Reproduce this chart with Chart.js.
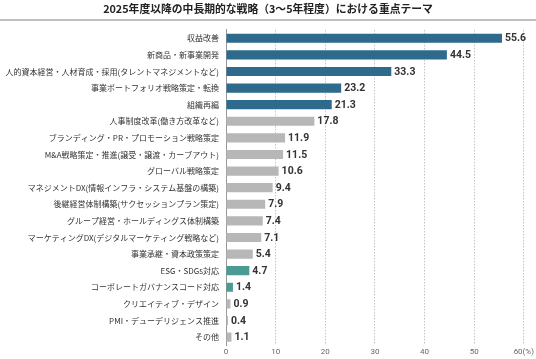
<!DOCTYPE html>
<html>
<head>
<meta charset="utf-8">
<script src="https://cdn.jsdelivr.net/npm/chart.js@4/dist/chart.umd.min.js"></script>
<style>
  html, body { margin: 0; padding: 0; background: #fff; }
  #wrap { width: 536px; height: 359px; position: relative; }
</style>
</head>
<body>
<div id="wrap"><canvas id="myChart" width="536" height="359"></canvas></div>
<script>
const titleText = "2025年度以降の中長期的な戦略（3～5年程度）における重点テーマ";

const categories = [
  "収益改善",
  "新商品・新事業開発",
  "人的資本経営・人材育成・採用(タレントマネジメントなど)",
  "事業ポートフォリオ戦略策定・転換",
  "組織再編",
  "人事制度改革(働き方改革など)",
  "ブランディング・PR・プロモーション戦略策定",
  "M&A戦略策定・推進(譲受・譲渡・カーブアウト)",
  "グローバル戦略策定",
  "マネジメントDX(情報インフラ・システム基盤の構築)",
  "後継経営体制構築(サクセッションプラン策定)",
  "グループ経営・ホールディングス体制構築",
  "マーケティングDX(デジタルマーケティング戦略など)",
  "事業承継・資本政策策定",
  "ESG・SDGs対応",
  "コーポレートガバナンスコード対応",
  "クリエイティブ・デザイン",
  "PMI・デューデリジェンス推進",
  "その他"
];

const values = [55.6, 44.5, 33.3, 23.2, 21.3, 17.8, 11.9, 11.5, 10.6, 9.4, 7.9, 7.4, 7.1, 5.4, 4.7, 1.4, 0.9, 0.4, 1.1];

// colour group per bar: top five, ESG group, the rest
const groups = ["top", "top", "top", "top", "top", "other", "other", "other", "other", "other",
  "other", "other", "other", "other", "esg", "esg", "other", "other", "other"];

const xTicks = [0, 10, 20, 30, 40, 50, 60];

const groupColors = { top: "#2d6a8b", esg: "#4b9b95", other: "#b7b7b7" };

const titleLine = {
  id: "titleLine",
  beforeDraw(chart) {
    const ctx = chart.ctx;
    ctx.save();
    ctx.strokeStyle = "#a8a8a8";
    ctx.lineWidth = 1.5;
    ctx.beginPath();
    ctx.moveTo(0, 20);
    ctx.lineTo(chart.width, 20);
    ctx.stroke();
    ctx.restore();
  }
};

const valueLabels = {
  id: "valueLabels",
  afterDatasetsDraw(chart) {
    const ctx = chart.ctx;
    const meta = chart.getDatasetMeta(0);
    ctx.save();
    ctx.font = "bold 10.5px 'Roboto', 'Noto Sans', sans-serif";
    ctx.fillStyle = "#333";
    ctx.textBaseline = "middle";
    ctx.textAlign = "left";
    meta.data.forEach((bar, i) => {
      ctx.fillText(values[i].toFixed(1), bar.x + 3, bar.y + 0.5);
    });
    ctx.restore();
  }
};

var ctx = document.getElementById("myChart").getContext("2d");
var myChart = new Chart(ctx, {
  type: "bar",
  data: {
    labels: categories,
    datasets: [
      {
        label: "",
        data: values,
        backgroundColor: groups.map((g) => groupColors[g]),
        borderWidth: 0,
        barPercentage: 0.55,
        categoryPercentage: 1.0,
      },
    ],
  },
  options: {
    indexAxis: "y",
    responsive: false,
    animation: false,
    layout: { padding: { left: 0, right: 0, top: 0, bottom: 0 } },
    plugins: {
      legend: { display: false },
      tooltip: { enabled: false },
      title: {
        display: true,
        text: titleText,
        color: "#222",
        font: { family: "'Noto Sans CJK JP', sans-serif", size: 10.8, weight: "bold" },
        padding: { top: 2, bottom: 15 },
      },
    },
    scales: {
      x: {
        min: 0,
        max: 60,
        afterBuildTicks(scale) {
          scale.ticks = xTicks.map((v) => ({ value: v }));
        },
        ticks: {
          color: "#666",
          font: { family: "'Roboto', sans-serif", size: 8 },
          padding: 2,
          maxRotation: 0,
          callback: (v) => (v === 60 ? "60(%)" : String(v)),
        },
        grid: {
          color: "#c4c4c4",
          lineWidth: 1,
          drawTicks: false,
        },
        border: { display: false, dash: [1.5, 1.5] },
      },
      y: {
        afterFit(scale) {
          scale.width = 226;
        },
        ticks: {
          color: "#333",
          font: { family: "'Noto Sans CJK JP', sans-serif", size: 8 },
          padding: 7,
          autoSkip: false,
        },
        grid: { display: false, drawTicks: false },
        border: { display: true, color: "#999", width: 1 },
      },
    },
  },
  plugins: [titleLine, valueLabels],
});
</script>
</body>
</html>
